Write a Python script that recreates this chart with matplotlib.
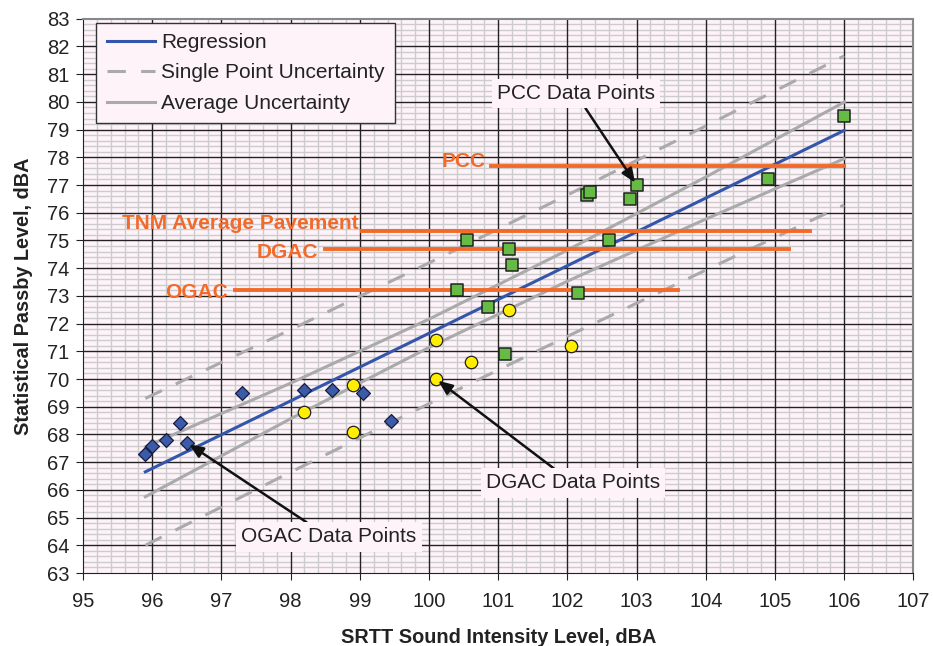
import matplotlib.pyplot as plt
from matplotlib.ticker import MultipleLocator

plt.rcParams['font.family'] = ['Liberation Sans', 'DejaVu Sans']

# data points
ogac_x = [95.9, 96.0, 96.2, 96.4, 96.5, 97.3, 98.2, 98.6, 99.05, 99.45]
ogac_y = [67.3, 67.6, 67.8, 68.4, 67.7, 69.5, 69.6, 69.6, 69.5, 68.5]

dgac_x = [98.2, 98.9, 98.9, 100.1, 100.1, 100.6, 101.15, 102.05]
dgac_y = [68.8, 69.8, 68.1, 71.4, 70.0, 70.6, 72.5, 71.2]

pcc_x = [100.4, 100.55, 100.85, 101.1, 101.15, 101.2, 102.15, 102.28, 102.33, 102.6, 102.9, 103.0, 104.9, 106.0]
pcc_y = [73.2, 75.0, 72.6, 70.9, 74.7, 74.1, 73.1, 76.65, 76.75, 75.0, 76.5, 77.0, 77.2, 79.5]

# regression and uncertainty bands
line_x = [95.9, 98, 100, 102, 104, 106]
reg_y = [66.65, 69.21, 71.65, 74.09, 76.53, 78.97]
avg_hi = [67.55, 69.85, 72.16, 74.65, 77.29, 79.99]
avg_lo = [65.75, 68.57, 71.14, 73.53, 75.77, 77.95]
spu_hi = [69.30, 71.78, 74.19, 76.64, 79.13, 81.66]
spu_lo = [64.00, 66.64, 69.11, 71.54, 73.93, 76.28]

# pavement levels
pave_names = ['PCC', 'TNM Average Pavement', 'DGAC', 'OGAC']
pave_level = [77.7, 75.35, 74.7, 73.2]
pave_start = [100.9, 99.03, 98.5, 97.2]
pave_end = [106.0, 105.5, 105.2, 103.6]
pave_label_x = [100.82, 98.98, 98.4, 97.1]
pave_label_y = [77.85, 75.6, 74.56, 73.12]

fig = plt.figure(figsize=(9.33, 6.46), dpi=100)
ax = fig.add_axes([0.089, 0.113, 0.89, 0.858])
ax.set_facecolor('#fdf3f8')

ax.set_xlim(95, 107)
ax.set_ylim(63, 83)
ax.xaxis.set_major_locator(MultipleLocator(1))
ax.yaxis.set_major_locator(MultipleLocator(1))
ax.xaxis.set_minor_locator(MultipleLocator(0.2))
ax.yaxis.set_minor_locator(MultipleLocator(0.2))
ax.grid(which='minor', color='#cccccc', lw=1.0)
ax.set_axisbelow(True)
for v in range(96, 107):
    ax.axvline(v, color='#222222', lw=1.0, zorder=1)
for v in range(64, 83):
    ax.axhline(v, color='#222222', lw=1.0, zorder=1)
ax.tick_params(which='minor', length=0)
ax.tick_params(which='major', length=5, direction='out', labelsize=14.5, colors='#222222')
ax.tick_params(axis='x', pad=9)
ax.tick_params(axis='y', pad=5)
for s in ['top', 'right']:
    ax.spines[s].set_color('#888888')
    ax.spines[s].set_linewidth(1.5)
for s in ['left', 'bottom']:
    ax.spines[s].set_color('#222222')

ax.plot(line_x, spu_hi, color='#aaaaaa', lw=2.2, dashes=(6, 5), zorder=2)
ax.plot(line_x, spu_lo, color='#aaaaaa', lw=2.2, dashes=(6, 5), zorder=2)
ax.plot(line_x, avg_hi, color='#aaaaaa', lw=2.2, zorder=2)
ax.plot(line_x, avg_lo, color='#aaaaaa', lw=2.2, zorder=2)
ax.plot(line_x, reg_y, color='#3355aa', lw=2.2, zorder=3)

for name, lvl, x0, x1, tx, ty in zip(pave_names, pave_level, pave_start, pave_end, pave_label_x, pave_label_y):
    ax.plot([x0, x1], [lvl, lvl], color='#f26a2a', lw=2.8, zorder=3)
    ax.text(tx, ty, name, color='#f26a2a', fontsize=15, fontweight='bold', ha='right', va='center', zorder=4)

ax.scatter(ogac_x, ogac_y, marker='D', s=50, color='#3a5ca8', edgecolors='#1a1a40', linewidths=0.9, zorder=5)
ax.scatter(dgac_x, dgac_y, marker='o', s=80, color='#ffee00', edgecolors='#222222', linewidths=0.9, zorder=5)
ax.scatter(pcc_x, pcc_y, marker='s', s=75, color='#66bb44', edgecolors='#222222', linewidths=1.1, zorder=5)

box = dict(boxstyle='square,pad=0.25', fc='#fdf3f8', ec='none')
arrow = dict(arrowstyle='-|>,head_length=0.6,head_width=0.25', color='#111111', lw=1.8,
             mutation_scale=14, shrinkA=0, shrinkB=2)
ax.annotate('PCC Data Points', xy=(103.0, 77.0), xytext=(102.12, 80.3), fontsize=15,
            ha='center', va='center', bbox=box, arrowprops=arrow, zorder=6, color='#222222')
ax.annotate('DGAC Data Points', xy=(100.1, 70.0), xytext=(102.08, 66.25), fontsize=15,
            ha='center', va='center', bbox=box, arrowprops=arrow, zorder=6, color='#222222')
ax.annotate('OGAC Data Points', xy=(96.5, 67.7), xytext=(98.55, 64.3), fontsize=15,
            ha='center', va='center', bbox=box, arrowprops=arrow, zorder=6, color='#222222')

ax.plot([], [], color='#3355aa', lw=2.2, label='Regression')
ax.plot([], [], color='#aaaaaa', lw=2.2, dashes=(6, 5), label='Single Point Uncertainty')
ax.plot([], [], color='#aaaaaa', lw=2.2, label='Average Uncertainty')
leg = ax.legend(loc='upper left', bbox_to_anchor=(0.016, 0.993), fontsize=15, frameon=True,
                fancybox=False, edgecolor='#333333', facecolor='#fdf3f8', framealpha=1,
                handlelength=2.3, handletextpad=0.3, borderpad=0.5, labelspacing=0.55,
                borderaxespad=0)
leg.get_frame().set_linewidth(1.0)
leg.set_zorder(7)
for t in leg.get_texts():
    t.set_color('#222222')

ax.set_xlabel('SRTT Sound Intensity Level, dBA', fontsize=14.3, fontweight='bold', color='#222222', labelpad=12)
ax.set_ylabel('Statistical Passby Level, dBA', fontsize=14.3, fontweight='bold', color='#222222', labelpad=10)

fig.savefig('out.png', dpi=100)
